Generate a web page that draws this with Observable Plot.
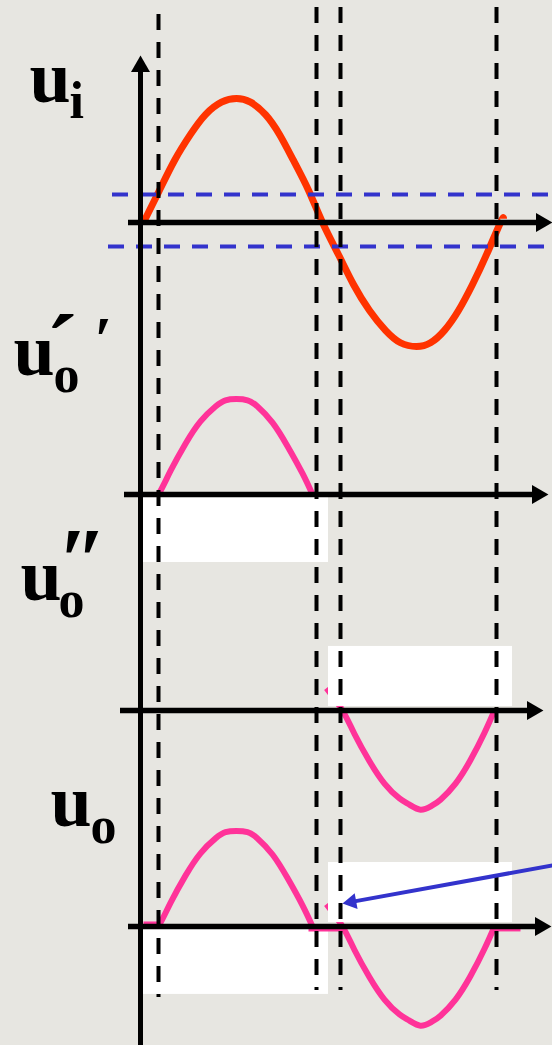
<!DOCTYPE html>
<html><head><meta charset="utf-8">
<script src="https://cdn.jsdelivr.net/npm/d3@7"></script>
<script src="https://cdn.jsdelivr.net/npm/@observablehq/plot@0.6"></script>
<style>html,body{margin:0;padding:0;background:#e7e6e1;overflow:hidden}</style>
</head><body><div id="chart"></div>
<script>
// ---- data (x: ωt in degrees, y: volts) ----
const uiPhase = [0,16,31,47,62,78,93,107,122,136,150,165,179,195,210,226,242,257,273,287,301,315,329,343,357,360];
const uiVolt  = [0,2.6,5,7.1,8.7,9.7,10,9.7,8.7,7.1,5,2.6,0,-2.6,-5,-7.1,-8.7,-9.7,-10,-9.7,-8.7,-7.1,-5,-2.6,0,0.3];
const posLobePhase = [-1,15,27,42,57,72,82,93,104,114,129,144,159,169];
const posLobeVolt  = [-2.0,0,1.9,4.1,5.9,7.1,7.6,7.7,7.6,7.1,5.8,3.9,1.7,0];
const negLobePhase = [183,199,211,226,241,256,266,277,288,297,312,327,341,351];
const negLobeVolt  = [1.8,0,-1.9,-4.1,-5.9,-7.1,-7.6,-8.0,-7.7,-7.2,-5.9,-4.0,-1.8,0];
const flatStart = [0,165,351];
const flatEnd   = [15,199,377];
const flatVolt  = [0.2,-0.2,-0.2];
const thresholds = [2.26,-1.94];
const crossPhases = [15,173,197,353];
const panelNames = ["ui","uo1","uo2","uo"];

// ---- layout ----
const W = 552, H = 1045;
const xDomain = [-143, 409];
const yDomain = [-66.37, 17.9];
const pxX = W / (xDomain[1] - xDomain[0]);
const pxY = H / (yDomain[1] - yDomain[0]);
const panelBase = [0, -21.94, -39.35, -56.77];

const rows = (xs, ys, off) => xs.map((x, i) => ({x, y: ys[i] + off}));

const masks = [
  {x1: 0, x2: 185, y1: panelBase[1] - 0.24, y2: panelBase[1] - 5.48},
  {x1: 185, x2: 369, y1: panelBase[2] + 0.32, y2: panelBase[2] + 5.16},
  {x1: 0, x2: 185, y1: panelBase[3] - 0.24, y2: panelBase[3] - 5.48},
  {x1: 185, x2: 369, y1: panelBase[3] + 0.32, y2: panelBase[3] + 5.16}
];
const flats = flatStart.map((s, i) => ({x1: s, x2: flatEnd[i], y: flatVolt[i] + panelBase[3]}));
const thrRows = [
  {y: thresholds[0], x1: -31, x2: 409},
  {y: thresholds[1], x1: -35, x2: 402}
];
const dashTop = [16.77, 17.34, 17.34, 17.34];
const dashBottom = [-62.5, -61.94, -61.94, -61.94];
const dashRows = crossPhases.map((x, i) => ({x, y1: dashTop[i], y2: dashBottom[i]}));

const hAxes = [
  {x1: -15, tip: 409, y: panelBase[0]},
  {x1: -19, tip: 405, y: panelBase[1]},
  {x1: -23, tip: 400, y: panelBase[2]},
  {x1: -15, tip: 408, y: panelBase[3]}
];
const vAxis = {x: -3, y1: -66.5, tip: 13.47};
const headR = 7.05, headOff = 11;

// blue arrow
const arrowTail = {x: 409, y: panelBase[3] + 4.92};
const arrowTip = {x: 199, y: panelBase[3] + 1.85};
const dxp = (arrowTip.x - arrowTail.x) * pxX, dyp = -(arrowTip.y - arrowTail.y) * pxY;
const len = Math.hypot(dxp, dyp), ux = dxp / len, uy = dyp / len;
const aHeadR = 5.94, aHeadOff = 9.24;
const arrowAngle = Math.atan2(uy, ux) * 180 / Math.PI + 90;
const aCenter = {x: arrowTip.x - ux * aHeadOff / pxX, y: arrowTip.y + uy * aHeadOff / pxY};

const mainLabels = [
  {text: "u", x: -114, y: 9.68},
  {text: "u", x: -130, y: -12.34},
  {text: "u", x: -123, y: -30.48},
  {text: "u", x: -93, y: -48.63}
];
const subLabels = [
  {text: "i", x: -74, y: 8.39},
  {text: "o", x: -90, y: -13.71},
  {text: "o", x: -85, y: -31.85},
  {text: "o", x: -53, y: -50.08}
];
const primeLabels = [
  {text: "´", x: -98, y: -12.74, size: 96},
  {text: "′", x: -49, y: -11.2, size: 64},
  {text: "″", x: -86, y: -29.7, size: 90}
];

const font = "Liberation Serif, Times New Roman, serif";
const pink = "#ff3399";
const crv = "natural";

const chart = Plot.plot({
  width: W, height: H, margin: 0,
  x: {domain: xDomain, axis: null},
  y: {domain: yDomain, axis: null},
  style: {background: "#e7e6e1"},
  marks: [
    Plot.line(rows(uiPhase, uiVolt, panelBase[0]), {x: "x", y: "y", stroke: "#ff3300", strokeWidth: 7, curve: crv, strokeLinecap: "butt"}),
    Plot.line(rows(posLobePhase, posLobeVolt, panelBase[1]), {x: "x", y: "y", stroke: pink, strokeWidth: 6, curve: crv, strokeLinecap: "butt"}),
    Plot.line(rows(negLobePhase, negLobeVolt, panelBase[2]), {x: "x", y: "y", stroke: pink, strokeWidth: 6, curve: crv, strokeLinecap: "butt"}),
    Plot.line(rows(posLobePhase, posLobeVolt, panelBase[3]), {x: "x", y: "y", stroke: pink, strokeWidth: 6, curve: crv, strokeLinecap: "butt"}),
    Plot.line(rows(negLobePhase, negLobeVolt, panelBase[3]), {x: "x", y: "y", stroke: pink, strokeWidth: 6, curve: crv, strokeLinecap: "butt"}),
    Plot.rect(masks, {x1: "x1", x2: "x2", y1: "y1", y2: "y2", fill: "white"}),
    Plot.link(flats, {x1: "x1", x2: "x2", y1: "y", y2: "y", stroke: pink, strokeWidth: 5}),
    Plot.ruleY(thrRows, {y: "y", x1: "x1", x2: "x2", stroke: "#3333cc", strokeWidth: 4, strokeDasharray: "16,12"}),
    Plot.ruleX(dashRows, {x: "x", y1: "y1", y2: "y2", stroke: "black", strokeWidth: 4, strokeDasharray: "16,12"}),
    Plot.ruleY(hAxes, {y: "y", x1: "x1", x2: d => d.tip - 12 / pxX, stroke: "black", strokeWidth: 5.5}),
    Plot.dot(hAxes, {x: "tip", y: "y", symbol: "triangle", r: headR, fill: "black", stroke: "none", rotate: 90, dx: -headOff}),
    Plot.ruleX([vAxis], {x: "x", y1: "y1", y2: d => d.tip - 12 / pxY, stroke: "black", strokeWidth: 5}),
    Plot.dot([vAxis], {x: "x", y: "tip", symbol: "triangle", r: headR, fill: "black", stroke: "none", dy: headOff}),
    Plot.link([{x1: arrowTail.x, y1: arrowTail.y, x2: aCenter.x, y2: aCenter.y}], {x1: "x1", y1: "y1", x2: "x2", y2: "y2", stroke: "#3333cc", strokeWidth: 4}),
    Plot.dot([arrowTip], {x: "x", y: "y", symbol: "triangle", r: aHeadR, fill: "#3333cc", stroke: "none", rotate: arrowAngle, dx: -ux * aHeadOff, dy: -uy * aHeadOff}),
    Plot.text(mainLabels, {x: "x", y: "y", text: "text", fontSize: 74, fontWeight: "bold", fontFamily: font, textAnchor: "start", lineAnchor: "bottom", fill: "black"}),
    Plot.text(subLabels, {x: "x", y: "y", text: "text", fontSize: 52, fontWeight: "bold", fontFamily: font, textAnchor: "start", lineAnchor: "bottom", fill: "black"}),
    Plot.text(primeLabels, {x: "x", y: "y", text: "text", fontSize: "size", fontWeight: "bold", fontFamily: font, textAnchor: "start", lineAnchor: "bottom", fill: "black"})
  ]
});
document.getElementById("chart").appendChild(chart);
</script></body></html>
